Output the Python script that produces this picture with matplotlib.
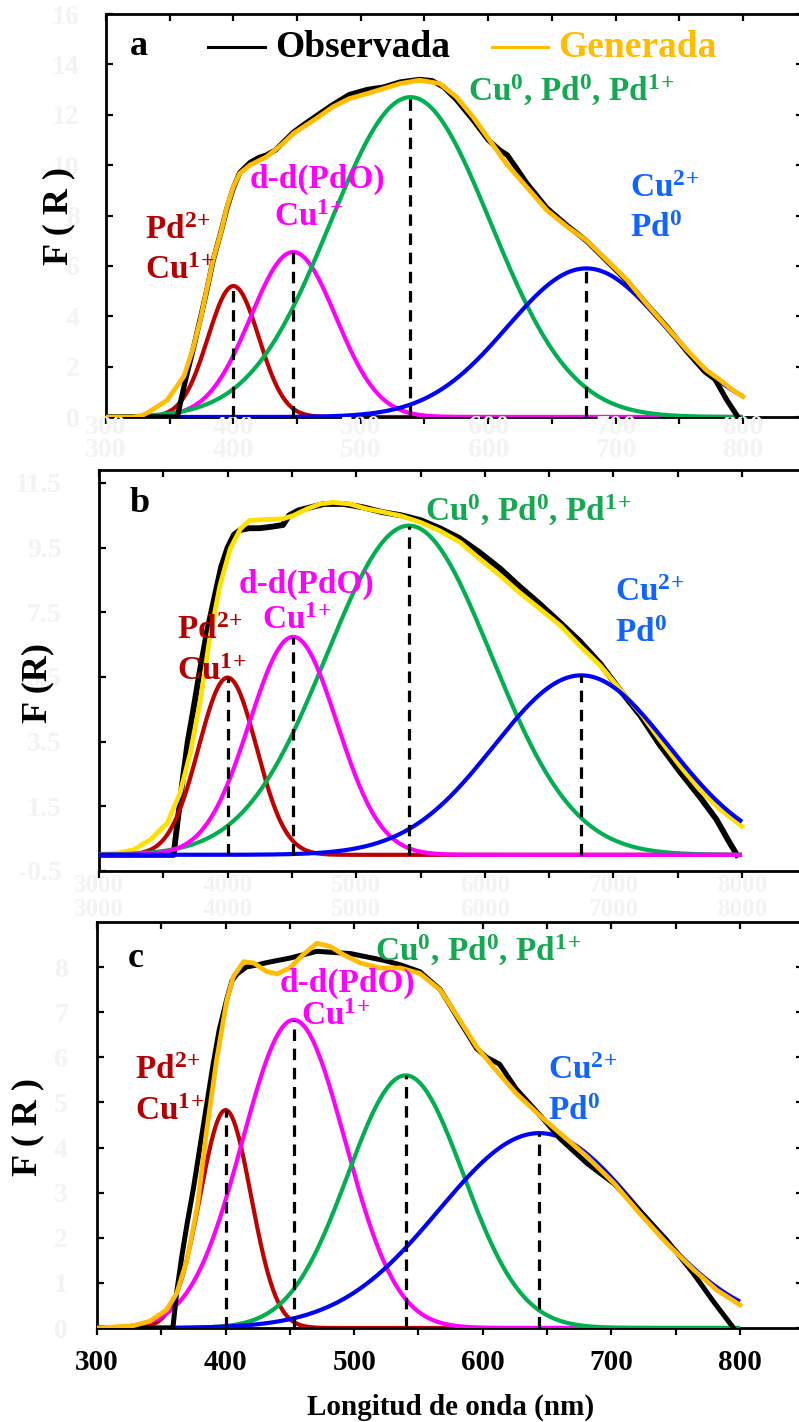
import numpy as np
import matplotlib
matplotlib.use("Agg")
import matplotlib.pyplot as plt
from matplotlib.transforms import blended_transform_factory

plt.rcParams["font.family"] = ["Liberation Serif", "DejaVu Serif"]
plt.rcParams["font.weight"] = "bold"
plt.rcParams["mathtext.fontset"] = "custom"
plt.rcParams["mathtext.rm"] = "Liberation Serif:bold"
plt.rcParams["mathtext.bf"] = "Liberation Serif:bold"
plt.rcParams["mathtext.it"] = "Liberation Serif:bold"
plt.rcParams["mathtext.default"] = "rm"

# ---------------- data ----------------
# fitted bands: red, magenta, green, blue  (centre nm, height F(R), sigma nm)
a_center = [400, 447, 539, 677]
a_height = [5.2, 6.55, 12.7, 5.9]
a_sigma = [20, 33.5, 63, 62]

b_center = [400, 451, 541, 675]
b_height = [5.48, 6.74, 10.18, 5.55]
b_sigma = [22.5, 34, 64, 68]

c_center = [400, 453, 540, 644]
c_height = [4.83, 6.83, 5.6, 4.32]
c_sigma = [19.8, 40, 45, 78]

# observed spectra
a_obs_nm = [300, 356, 359, 363, 368, 374, 379, 384, 390, 395, 400, 405, 413, 420, 426, 433, 439,
            447, 455, 465, 478, 491, 505, 518, 531, 546, 556, 565, 575, 588, 600, 609, 615, 622,
            630, 646, 662, 677, 693, 709, 724, 740, 756, 770, 778, 787, 796]
a_obs_val = [0, 0, 0.7, 1.6, 2.6, 3.9, 5.0, 6.2, 7.3, 8.3, 9.1, 9.7, 10.1, 10.3, 10.4, 10.6, 10.9,
             11.3, 11.6, 11.95, 12.4, 12.8, 13.0, 13.1, 13.3, 13.4, 13.35, 13.1, 12.6, 11.8, 11.0,
             10.6, 10.4, 9.9, 9.3, 8.3, 7.6, 7.0, 6.2, 5.4, 4.5, 3.6, 2.6, 1.8, 1.5, 0.7, 0]

b_obs_nm = [300, 358, 361, 365, 369, 373, 378, 384, 390, 395, 400, 405, 410, 417, 425, 435, 443,
            448, 455, 465, 475, 490, 505, 520, 535, 550, 565, 580, 596, 612, 627, 643, 658, 674,
            690, 705, 721, 736, 752, 767, 780, 790, 796]
b_obs_val = [0, 0, 1.0, 2.3, 3.5, 4.4, 5.6, 6.9, 8.0, 8.9, 9.5, 9.9, 10.05, 10.1, 10.1, 10.15, 10.2,
             10.5, 10.65, 10.75, 10.85, 10.85, 10.75, 10.6, 10.5, 10.35, 10.1, 9.8, 9.35, 8.85,
             8.3, 7.75, 7.2, 6.6, 5.9, 5.1, 4.3, 3.4, 2.55, 1.8, 1.1, 0.4, 0]

c_obs_nm = [300, 359, 362, 366, 370, 375, 380, 385, 390, 395, 401, 405, 409, 416, 425, 432, 450,
            471, 497, 523, 536, 551, 567, 582, 595, 603, 613, 626, 645, 660, 681, 702, 722, 743,
            764, 779, 795]
c_obs_val = [0, 0, 0.8, 1.6, 2.3, 3.1, 4.0, 4.9, 5.8, 6.6, 7.3, 7.7, 7.85, 8.0, 8.05, 8.1, 8.2,
             8.35, 8.3, 8.15, 8.05, 7.9, 7.5, 6.8, 6.2, 6.0, 5.85, 5.3, 4.7, 4.2, 3.65, 3.2, 2.6,
             1.95, 1.2, 0.6, 0]

# generated (fitted) spectra
a_gen_nm = [300, 321, 328, 334, 348, 361, 368, 374, 379, 384, 390, 395, 400, 405, 413, 426, 439,
            447, 465, 478, 491, 505, 518, 531, 546, 562, 575, 588, 601, 614, 630, 646, 662, 677,
            693, 709, 724, 740, 756, 771, 782, 792, 800]
a_gen_val = [0, 0, 0.05, 0.21, 0.67, 1.6, 2.66, 3.85, 5.04, 6.23, 7.29, 8.35, 9.14, 9.67, 10.0,
             10.33, 10.86, 11.25, 11.85, 12.31, 12.64, 12.84, 13.04, 13.24, 13.37, 13.24, 12.71,
             11.92, 11.0, 10.07, 9.14, 8.21, 7.55, 7.02, 6.23, 5.44, 4.51, 3.58, 2.66, 1.87,
             1.47, 1.07, 0.81]

b_gen_nm = [300, 314, 327, 340, 353, 363, 371, 379, 386, 394, 402, 410, 417, 430, 443, 451, 462,
            472, 482, 495, 508, 521, 534, 550, 565, 581, 596, 612, 627, 643, 659, 674, 690, 705,
            721, 736, 752, 767, 783, 800]
b_gen_val = [0, 0.05, 0.16, 0.47, 0.98, 1.91, 3.15, 4.81, 6.67, 8.32, 9.46, 10.08, 10.34, 10.37,
             10.39, 10.49, 10.7, 10.85, 10.9, 10.85, 10.7, 10.6, 10.49, 10.28, 10.02, 9.66, 9.15,
             8.63, 8.11, 7.6, 7.08, 6.46, 5.84, 5.12, 4.39, 3.57, 2.74, 2.02, 1.4, 0.88]

c_gen_nm = [300, 328, 341, 354, 362, 370, 378, 385, 393, 401, 406, 414, 422, 432, 440, 450, 460,
            471, 481, 492, 505, 520, 536, 551, 567, 582, 595, 608, 626, 645, 660, 681, 702, 722,
            743, 764, 782, 800]
c_gen_val = [0, 0.05, 0.15, 0.4, 0.77, 1.51, 2.69, 4.32, 5.94, 7.27, 7.79, 8.12, 8.09, 7.9, 7.85,
             7.98, 8.27, 8.53, 8.46, 8.27, 8.09, 7.98, 7.98, 7.86, 7.49, 6.83, 6.24, 5.79, 5.2,
             4.69, 4.32, 3.8, 3.21, 2.54, 1.88, 1.29, 0.84, 0.51]

x_ticks = [300, 400, 500, 600, 700, 800]
a_yticks = [0, 2, 4, 6, 8, 10, 12, 14, 16]
b_yticks = [-0.5, 1.5, 3.5, 5.5, 7.5, 9.5, 11.5]
b_right_ticks = [0.56, 1.64, 2.73, 3.81, 4.9, 5.98, 7.07, 8.16, 9.24, 10.33, 11.47]
c_yticks = [0, 1, 2, 3, 4, 5, 6, 7, 8]
ghost_a = ["300", "400", "500", "600", "700", "800"]
ghost_b = ["3000", "4000", "5000", "6000", "7000", "8000"]

# ---------------- styling ----------------
RED, MAG, GRN, BLU = "#C00000", "#FF00FF", "#00B050", "#0000FF"
ORANGE, YELLOW = "#FFBC00", "#FFE000"
BLUE_TXT, GRN_TXT, RED_TXT = "#1064FF", "#14A850", "#B40000"
GHOST = "#f3f3f3"
W, H = 799, 1422

fig = plt.figure(figsize=(W / 100, H / 100), dpi=100)


def px_axes(left, top, right, bottom):
    return fig.add_axes([left / W, 1 - bottom / H, (right - left) / W, (bottom - top) / H])


def style(ax, xlim, ylim, yticks, ypad, right_same=True):
    ax.set_xlim(*xlim)
    ax.set_ylim(*ylim)
    for s in ax.spines.values():
        s.set_linewidth(2.0)
    ax.set_xticks(np.arange(300, 801, 50))
    ax.set_xticklabels([])
    ax.tick_params(axis="x", which="both", top=True, bottom=True, direction="out",
                   length=5, width=1.6, labeltop=False)
    for t in ax.xaxis.get_major_ticks():
        t.tick2line.set_marker(3)  # top ticks pointing down (inward)
    ax.set_yticks(yticks)
    ax.set_yticklabels([("%g" % v) for v in yticks], color=GHOST, fontsize=20)
    ax.tick_params(axis="y", direction="in", length=5, width=1.6, pad=ypad,
                   right=right_same)


def gauss_components(ax, centers, heights, sigmas, zorders, lw=3.0):
    colors = [RED, MAG, GRN, BLU]
    x = np.linspace(300, 800, 800)
    for c, h, s, col, z in zip(centers, heights, sigmas, colors, zorders):
        ax.plot(x, h * np.exp(-(x - c) ** 2 / (2 * s ** 2)), color=col, lw=lw,
                zorder=z, solid_capstyle="butt")


def dashed(ax, centers, heights):
    for c, h in zip(centers, heights):
        ax.plot([c, c], [0, h], color="black", lw=2.3, ls=(0, (3.6, 2.4)), zorder=8)


def sup_text(ax, x, y, s, color, ha="left", size=24):
    ax.text(x, y, s, color=color, ha=ha, va="center", fontsize=size, fontweight="bold",
            zorder=12)


def ghost_row(ax, labels, yfrac, size=20):
    tr = blended_transform_factory(ax.transData, ax.transAxes)
    for xv, lab in zip(x_ticks, labels):
        ax.text(xv, yfrac, lab, transform=tr, ha="center", va="center", color=GHOST,
                fontsize=size, clip_on=False)


P2 = r"Pd$^{2\!+}$"
C1 = r"Cu$^{1\!+}$"
C2 = r"Cu$^{2\!+}$"
P0 = r"Pd$^{0}$"
GREEN_LAB = r"Cu$^{0}$, Pd$^{0}$, Pd$^{1\!+}$"

# ---------------- panel a ----------------
axa = px_axes(106, 14, 803, 417)
style(axa, (300, 847.1), (0, 16), a_yticks, 19)
gauss_components(axa, a_center, a_height, a_sigma, [2, 3, 4, 5])
dashed(axa, a_center, a_height)
axa.plot(a_obs_nm, a_obs_val, color="black", lw=3.8, zorder=9, solid_joinstyle="round")
axa.plot(a_gen_nm, a_gen_val, color=ORANGE, lw=3.4, zorder=10, solid_joinstyle="round")
axa.plot([380, 424.8], [14.68, 14.68], color="black", lw=2.2)
axa.text(432.7, 14.68, "Observada", color="black", fontsize=27, va="center", ha="left")
axa.plot([603, 647], [14.68, 14.68], color=ORANGE, lw=2.2)
axa.text(654.8, 14.68, "Generada", color=ORANGE, fontsize=27, va="center", ha="left")
axa.text(318.8, 14.7, "a", fontsize=26, va="center", ha="left")
sup_text(axa, 330.6, 7.42, P2, RED_TXT)
sup_text(axa, 330.6, 5.83, C1, RED_TXT)
sup_text(axa, 465.6, 9.44, "d-d(PdO)", MAG, ha="center")
sup_text(axa, 459.3, 7.94, C1, MAG, ha="center")
sup_text(axa, 584.1, 12.98, GREEN_LAB, GRN_TXT)
sup_text(axa, 711.3, 9.09, C2, BLUE_TXT)
sup_text(axa, 711.3, 7.5, P0, BLUE_TXT)
ghost_row(axa, ghost_a, -0.025)
ghost_row(axa, ghost_a, -0.082)

# ---------------- panel b ----------------
axb = px_axes(99, 470, 803, 871)
style(axb, (300, 847.4), (-0.5, 11.9), b_yticks, 27, right_same=False)
twin = axb.twinx()
twin.set_ylim(-0.5, 11.9)
twin.set_yticks(b_right_ticks)
twin.set_yticklabels([])
twin.tick_params(axis="y", direction="in", length=2.5, width=1.6)
for s in twin.spines.values():
    s.set_visible(False)
axb.plot(b_obs_nm, b_obs_val, color="black", lw=4.2, zorder=2, solid_joinstyle="round")
axb.plot(b_gen_nm, b_gen_val, color=YELLOW, lw=3.4, zorder=3, solid_joinstyle="round")
gauss_components(axb, b_center, b_height, b_sigma, [4, 6, 5, 7])
dashed(axb, b_center, b_height)
axb.text(324.1, 10.85, "b", fontsize=26, va="center", ha="left")
sup_text(axb, 360.7, 6.95, P2, RED_TXT)
sup_text(axb, 360.7, 5.67, C1, RED_TXT)
sup_text(axb, 461, 8.37, "d-d(PdO)", MAG, ha="center")
sup_text(axb, 454, 7.26, C1, MAG, ha="center")
sup_text(axb, 553.5, 10.64, GREEN_LAB, GRN_TXT)
sup_text(axb, 701.2, 8.12, C2, BLUE_TXT)
sup_text(axb, 701.2, 6.85, P0, BLUE_TXT)
ghost_row(axb, ghost_b, -0.035, size=18)
ghost_row(axb, ghost_b, -0.095, size=18)

# ---------------- panel c ----------------
axc = px_axes(97, 922, 803, 1328)
style(axc, (300, 849.0), (0, 9), c_yticks, 21)
gauss_components(axc, c_center, c_height, c_sigma, [2, 3, 4, 5])
dashed(axc, c_center, c_height)
axc.plot(c_obs_nm, c_obs_val, color="black", lw=3.6, zorder=9, solid_joinstyle="round")
axc.plot(c_gen_nm, c_gen_val, color=ORANGE, lw=3.4, zorder=10, solid_joinstyle="round")
axc.set_xticks(x_ticks, minor=False)
axc.set_xticks(np.arange(350, 801, 100), minor=True)
axc.set_xticklabels([str(v) for v in x_ticks], fontsize=21, fontweight="bold")
axc.tick_params(axis="x", which="both", direction="out", length=5, width=1.6, pad=10,
                top=True)
for t in axc.xaxis.get_major_ticks() + axc.xaxis.get_minor_ticks():
    t.tick2line.set_marker(3)
axc.text(324.1, 8.2, "c", fontsize=26, va="center", ha="left")
sup_text(axc, 329.5, 5.70, P2, RED_TXT)
sup_text(axc, 329.5, 4.79, C1, RED_TXT)
sup_text(axc, 494.4, 7.63, "d-d(PdO)", MAG, ha="center")
sup_text(axc, 485.8, 6.9, C1, MAG, ha="center")
sup_text(axc, 516.2, 8.36, GREEN_LAB, GRN_TXT)
sup_text(axc, 650.7, 5.70, C2, BLUE_TXT)
sup_text(axc, 650.7, 4.81, P0, BLUE_TXT)

# axis titles
fig.text(59 / W, 1 - 216 / H, "F ( R )", rotation=90, ha="center", va="center", fontsize=26)
fig.text(38 / W, 1 - 683 / H, "F (R)", rotation=90, ha="center", va="center", fontsize=26)
fig.text(28 / W, 1 - 1127 / H, "F ( R )", rotation=90, ha="center", va="center", fontsize=26)
fig.text(451 / W, 1 - 1407 / H, "Longitud de onda (nm)", ha="center", va="center", fontsize=21)

fig.savefig("out.png", dpi=100)
